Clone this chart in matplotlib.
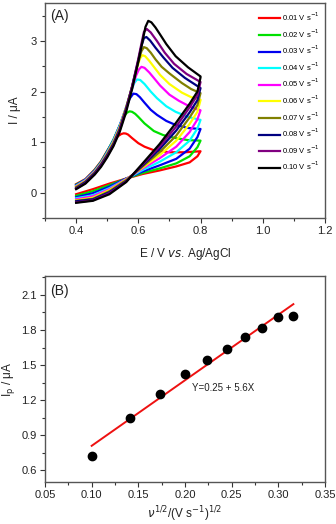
import matplotlib
matplotlib.use("Agg")
import matplotlib.pyplot as plt
from matplotlib.ticker import MultipleLocator

# ---------------- Panel A data: cyclic voltammograms ----------------
rates = ["0.01", "0.02", "0.03", "0.04", "0.05", "0.06", "0.07", "0.08", "0.09", "0.10"]
colors = ["#ff0000", "#00e000", "#0000ee", "#00ffff", "#ff00ff",
          "#ffff00", "#808000", "#000080", "#800080", "#000000"]

# forward (anodic) sweeps
E_f01 = [0.40, 0.43, 0.46, 0.48, 0.50, 0.52, 0.535, 0.545, 0.553, 0.56, 0.567, 0.58, 0.60, 0.62, 0.65, 0.70, 0.75, 0.80]
I_f01 = [0.17, 0.27, 0.46, 0.62, 0.83, 1.02, 1.12, 1.16, 1.175, 1.17, 1.15, 1.08, 0.98, 0.91, 0.84, 0.80, 0.80, 0.82]
E_f02 = [0.40, 0.43, 0.46, 0.48, 0.50, 0.52, 0.54, 0.553, 0.563, 0.572, 0.58, 0.59, 0.60, 0.62, 0.65, 0.68, 0.72, 0.76, 0.80]
I_f02 = [0.16, 0.26, 0.45, 0.61, 0.82, 1.05, 1.33, 1.50, 1.58, 1.61, 1.60, 1.56, 1.50, 1.37, 1.22, 1.14, 1.08, 1.04, 1.03]
E_f03 = [0.40, 0.43, 0.46, 0.48, 0.50, 0.52, 0.54, 0.56, 0.572, 0.584, 0.594, 0.605, 0.62, 0.64, 0.66, 0.69, 0.72, 0.76, 0.80]
I_f03 = [0.15, 0.26, 0.44, 0.60, 0.81, 1.04, 1.33, 1.67, 1.86, 1.96, 1.95, 1.89, 1.78, 1.64, 1.54, 1.42, 1.34, 1.28, 1.26]
E_f04 = [0.40, 0.43, 0.46, 0.48, 0.50, 0.52, 0.54, 0.56, 0.575, 0.587, 0.596, 0.606, 0.62, 0.64, 0.66, 0.69, 0.72, 0.76, 0.80]
I_f04 = [0.14, 0.25, 0.43, 0.59, 0.80, 1.03, 1.32, 1.68, 1.98, 2.17, 2.24, 2.23, 2.15, 2.00, 1.87, 1.71, 1.60, 1.50, 1.44]
E_f05 = [0.40, 0.43, 0.46, 0.48, 0.50, 0.52, 0.54, 0.56, 0.58, 0.593, 0.602, 0.61, 0.62, 0.635, 0.65, 0.67, 0.70, 0.73, 0.77, 0.80]
I_f05 = [0.13, 0.24, 0.42, 0.58, 0.78, 1.01, 1.30, 1.67, 2.07, 2.32, 2.44, 2.49, 2.47, 2.38, 2.27, 2.12, 1.94, 1.82, 1.69, 1.63]
E_f06 = [0.40, 0.43, 0.46, 0.48, 0.50, 0.52, 0.54, 0.56, 0.58, 0.595, 0.605, 0.613, 0.622, 0.635, 0.65, 0.67, 0.70, 0.74, 0.77, 0.80]
I_f06 = [0.12, 0.23, 0.41, 0.57, 0.77, 1.00, 1.29, 1.67, 2.10, 2.46, 2.65, 2.72, 2.70, 2.61, 2.49, 2.33, 2.15, 1.98, 1.89, 1.84]
E_f07 = [0.40, 0.43, 0.46, 0.48, 0.50, 0.52, 0.54, 0.56, 0.58, 0.60, 0.61, 0.618, 0.627, 0.64, 0.655, 0.675, 0.70, 0.74, 0.77, 0.80]
I_f07 = [0.11, 0.22, 0.40, 0.56, 0.76, 0.98, 1.27, 1.66, 2.10, 2.58, 2.80, 2.88, 2.86, 2.77, 2.64, 2.49, 2.36, 2.17, 2.05, 1.97]
E_f08 = [0.40, 0.43, 0.46, 0.48, 0.50, 0.52, 0.54, 0.56, 0.58, 0.60, 0.61, 0.618, 0.626, 0.638, 0.655, 0.68, 0.71, 0.75, 0.80]
I_f08 = [0.09, 0.21, 0.39, 0.55, 0.74, 0.96, 1.25, 1.64, 2.10, 2.62, 2.90, 3.06, 3.08, 3.01, 2.87, 2.68, 2.47, 2.27, 2.07]
E_f09 = [0.40, 0.43, 0.46, 0.48, 0.50, 0.52, 0.54, 0.56, 0.58, 0.60, 0.61, 0.618, 0.627, 0.64, 0.66, 0.685, 0.715, 0.755, 0.80]
I_f09 = [0.08, 0.19, 0.37, 0.53, 0.72, 0.94, 1.23, 1.62, 2.10, 2.65, 2.95, 3.18, 3.24, 3.17, 3.00, 2.77, 2.55, 2.35, 2.19]
E_f10 = [0.40, 0.43, 0.46, 0.48, 0.50, 0.52, 0.54, 0.56, 0.58, 0.60, 0.613, 0.623, 0.632, 0.642, 0.655, 0.67, 0.69, 0.72, 0.76, 0.80]
I_f10 = [0.07, 0.18, 0.36, 0.51, 0.70, 0.92, 1.20, 1.58, 2.05, 2.60, 2.98, 3.28, 3.40, 3.37, 3.27, 3.13, 2.94, 2.70, 2.48, 2.30]

# reverse sweeps (common potential grid)
E_rev = [0.80, 0.79, 0.765, 0.722, 0.668, 0.614, 0.561, 0.507, 0.454, 0.40]
I_r01 = [0.82, 0.72, 0.60, 0.52, 0.44, 0.37, 0.28, 0.18, 0.07, -0.03]
I_r02 = [1.03, 0.90, 0.72, 0.58, 0.48, 0.39, 0.28, 0.15, 0.03, -0.06]
I_r03 = [1.26, 1.10, 0.87, 0.67, 0.54, 0.42, 0.28, 0.12, -0.01, -0.09]
I_r04 = [1.44, 1.27, 1.03, 0.80, 0.61, 0.45, 0.27, 0.09, -0.05, -0.11]
I_r05 = [1.63, 1.45, 1.20, 0.91, 0.68, 0.48, 0.27, 0.07, -0.07, -0.13]
I_r06 = [1.83, 1.60, 1.36, 1.03, 0.74, 0.50, 0.26, 0.05, -0.10, -0.15]
I_r07 = [1.97, 1.73, 1.49, 1.13, 0.80, 0.52, 0.25, 0.03, -0.12, -0.16]
I_r08 = [2.07, 1.83, 1.59, 1.23, 0.86, 0.54, 0.23, 0.01, -0.13, -0.17]
I_r09 = [2.19, 1.93, 1.69, 1.31, 0.91, 0.56, 0.22, -0.01, -0.15, -0.19]
I_r10 = [2.28, 2.00, 1.76, 1.39, 0.96, 0.58, 0.21, -0.03, -0.16, -0.20]

E_fwd = [E_f01, E_f02, E_f03, E_f04, E_f05, E_f06, E_f07, E_f08, E_f09, E_f10]
I_fwd = [I_f01, I_f02, I_f03, I_f04, I_f05, I_f06, I_f07, I_f08, I_f09, I_f10]
I_rev = [I_r01, I_r02, I_r03, I_r04, I_r05, I_r06, I_r07, I_r08, I_r09, I_r10]

# ---------------- Panel B data: peak current vs sqrt(scan rate) ----------------
sqrt_v = [0.1, 0.1414, 0.1732, 0.2, 0.2236, 0.2449, 0.2646, 0.2828, 0.3, 0.3162]
Ip = [0.72, 1.05, 1.25, 1.42, 1.54, 1.64, 1.74, 1.82, 1.91, 1.92]
fit_a, fit_b = 0.25, 5.6

plt.rcParams['font.family'] = ['Liberation Sans', 'DejaVu Sans']
fig = plt.figure(figsize=(3.36, 5.24), dpi=100)
frame_c = '#555555'
txt_c = '#222222'

def style(ax):
    for s in ax.spines.values():
        s.set_color(frame_c)
        s.set_linewidth(1.0)
    ax.tick_params(which='both', direction='out', colors='#333333', labelsize=8, width=0.8)
    ax.tick_params(which='major', length=3.5, pad=2.5)
    ax.tick_params(which='minor', length=2)
    ax.tick_params(axis='both', labelcolor=txt_c)

# ---- Panel A ----
axA = fig.add_axes([0.134, 0.584, 0.833, 0.410])
for i in range(len(rates)):
    E = list(E_fwd[i]) + E_rev
    I = list(I_fwd[i]) + I_rev[i]
    axA.plot(E, I, color=colors[i], lw=1.6, label=rates[i] + " V s$^{-1}$",
             solid_joinstyle='round')
axA.set_xlim(0.3, 1.2)
axA.set_ylim(-0.5, 3.75)
axA.xaxis.set_minor_locator(MultipleLocator(0.1))
axA.yaxis.set_major_locator(MultipleLocator(1))
axA.yaxis.set_minor_locator(MultipleLocator(0.5))
axA.set_xticks([0.4, 0.6, 0.8, 1.0, 1.2])
axA.set_xticklabels(["0.4", "0.6", "0.8", "1.0", "1.2"])
style(axA)
axA.set_xlabel("E / V $\\it{vs}$. Ag/AgCl", fontsize=8.5, color=txt_c, labelpad=7)
axA.set_ylabel("I / \u03bcA", fontsize=8.5, color=txt_c, labelpad=7)
axA.text(0.02, 0.975, "(A)", transform=axA.transAxes, fontsize=10, va='top', ha='left',
         color=txt_c)
axA.legend(loc='upper right', bbox_to_anchor=(1.0, 0.99), frameon=False,
           fontsize=5.5, handlelength=2.7, handletextpad=0.3, labelspacing=0.55,
           borderaxespad=0.3)

# ---- Panel B ----
axB = fig.add_axes([0.134, 0.080, 0.833, 0.393])
axB.plot(sqrt_v, Ip, 'o', color='black', ms=6, zorder=3)
fx = [sqrt_v[0], sqrt_v[-1]]
fy = [fit_a + fit_b * x for x in fx]
axB.plot(fx, fy, color='#ee1111', lw=1.4, zorder=2)
axB.set_xlim(0.05, 0.35)
axB.set_ylim(0.5, 2.26)
axB.xaxis.set_minor_locator(MultipleLocator(0.025))
axB.yaxis.set_minor_locator(MultipleLocator(0.15))
axB.set_xticks([0.05, 0.10, 0.15, 0.20, 0.25, 0.30, 0.35])
axB.set_xticklabels(["0.05", "0.10", "0.15", "0.20", "0.25", "0.30", "0.35"])
axB.set_yticks([0.6, 0.9, 1.2, 1.5, 1.8, 2.1])
axB.set_yticklabels(["0.6", "0.9", "1.2", "1.5", "1.8", "2.1"])
style(axB)
axB.set_xlabel("$\\nu^{1/2}$/(V s$^{-1}$)$^{1/2}$", fontsize=8.5, color=txt_c, labelpad=3)
axB.set_ylabel("I$_\\mathrm{p}$ / \u03bcA", fontsize=8.5, color=txt_c, labelpad=3)
axB.text(0.02, 0.96, "(B)", transform=axB.transAxes, fontsize=10, va='top', ha='left',
         color=txt_c)
axB.text(0.208, 1.30, "Y=0.25 + 5.6X", fontsize=7, va='center', ha='left', color=txt_c)

fig.savefig("out.png", dpi=100)
